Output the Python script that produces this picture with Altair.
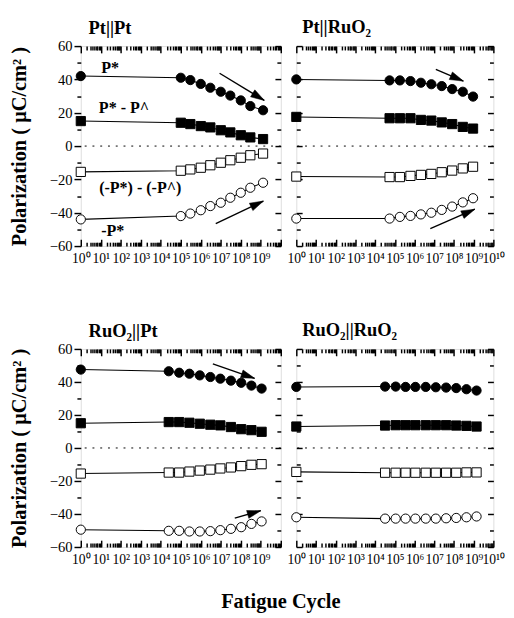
import math
import json
import altair as alt
import pandas as pd

FONT = "Liberation Serif"
SERIES = ["P*", "P* - P^", "(-P*) - (-P^)", "-P*"]
SHAPES = ["circle", "square", "square", "circle"]
FILLS = ["black", "black", "white", "white"]

XTICK_VALUES = [1, 1e1, 1e2, 1e3, 1e4, 1e5, 1e6, 1e7, 1e8, 1e9, 1e10]
XTICK_LABELS = ["10⁰", "10¹", "10²", "10³", "10⁴", "10⁵", "10⁶", "10⁷", "10⁸", "10⁹", "10¹⁰"]
MINOR_MULT = [2, 3, 4, 5, 6, 7, 8, 9]
YTICK_VALUES = [-60, -40, -20, 0, 20, 40, 60]
YMINOR_VALUES = [-50, -30, -10, 10, 30, 50]
YTITLE = "Polarization ( μC/cm² )"
XTITLE = "Fatigue Cycle"

# ---- Pt||Pt ----
tl_cycles = [1, 1e5, 3e5, 1e6, 3e6, 1e7, 3e7, 1e8, 3e8, 1.3e9]
tl_pstar = [42, 41, 39.6, 37.3, 35, 32.6, 30.3, 27.4, 24, 21.5]
tl_diff = [15, 14, 13.2, 12, 11.2, 9.5, 8.2, 6.5, 5.2, 4.2]
tl_ndiff = [-15.5, -14.8, -14, -13, -11.5, -10, -8.5, -7, -5.5, -4.5]
tl_npstar = [-44, -42, -40.5, -38.5, -36, -34, -31, -28, -25, -22]

# ---- Pt||RuO2 ----
tr_cycles = [1, 5.4e4, 1.8e5, 6.2e5, 2.1e6, 7.1e6, 2.4e7, 8.1e7, 2.8e8, 9.3e8]
tr_pstar = [40, 39.4, 39.4, 39, 38, 37.1, 36, 34.2, 32.6, 29.7]
tr_diff = [17.5, 16.7, 16.7, 16.7, 15.7, 15.3, 14.2, 13.2, 11.5, 10.5]
tr_ndiff = [-18.3, -18.6, -18.6, -17.9, -17.3, -16.7, -15.7, -14.7, -13.4, -12.4]
tr_npstar = [-43.5, -43.5, -42.5, -41.9, -41, -40, -38.3, -36.3, -33.8, -31.3]

# ---- RuO2||Pt ----
bl_cycles = [1, 2.5e4, 8.3e4, 2.7e5, 8.9e5, 3e6, 9.5e6, 3.2e7, 1.05e8, 3.4e8, 1.1e9]
bl_pstar = [47.5, 46.5, 45.6, 45, 44, 43, 42, 40.8, 39.5, 37.8, 36]
bl_diff = [15, 15.7, 15.7, 15.3, 14.7, 14.1, 13.7, 12.7, 11.4, 10.8, 9.8]
bl_ndiff = [-15.5, -14.9, -14.9, -14.3, -13.7, -13.1, -12.4, -11.8, -11, -10.2, -9.8]
bl_npstar = [-49.5, -50.2, -50.2, -50.6, -50.6, -50.4, -49.8, -49, -48, -46, -44.5]

# ---- RuO2||RuO2 ----
br_cycles = [1, 3.2e4, 1.1e5, 3.5e5, 1.1e6, 3.7e6, 1.2e7, 4e7, 1.3e8, 4.3e8, 1.4e9]
br_pstar = [37, 37.2, 37.2, 37, 37, 37, 36.8, 36.6, 36.3, 35.6, 34.8]
br_diff = [13, 13.6, 13.8, 13.8, 13.8, 13.8, 13.8, 13.8, 13.6, 13.4, 13]
br_ndiff = [-14.5, -15, -15, -15, -15, -15, -15, -15, -15, -14.8, -14.8]
br_npstar = [-42, -42.8, -42.8, -42.8, -42.8, -42.8, -42.8, -42.6, -42.4, -42, -41.5]

# arrows: (cycle_start, pol_start, cycle_end, pol_end)
tl_arrows = [(8.7e6, 43.7, 1.5e9, 27.4), (5.6e6, -46.6, 1.35e9, -33)]
tr_arrows = [(1.2e7, 46, 3e8, 39), (6.3e6, -49.5, 1.15e9, -37.9)]
bl_arrows = [(4e6, 51, 4.9e8, 42.2), (5e7, -42.5, 1e9, -38)]
br_arrows = []

# series name labels (Pt||Pt panel)
tl_labels = [("P*", 10.5, 46.8), ("P* - P^", 8, 22.5),
             ("(-P*) - (-P^)", 8.3, -25.5), ("-P*", 10.5, -50.8)]

HEAD = "M0,0L0.6,2L-0.6,2Z"

xscale = alt.Scale(type="log", domain=[1, 1e10], nice=False)
yscale = alt.Scale(domain=[-60, 60], nice=False, zero=False)

label_expr = json.dumps(XTICK_LABELS, ensure_ascii=False) + "[round(log(datum.value)/LN10)]"
minor_vals = [m * d for d in XTICK_VALUES[:-1] for m in MINOR_MULT]

dummy = pd.DataFrame({"cycle": [1.0], "value": [0.0]})


def make_df(cycles, vals_list):
    rows = []
    for s, vals in zip(SERIES, vals_list):
        for c, v in zip(cycles, vals):
            rows.append({"cycle": c, "value": v, "series": s})
    return pd.DataFrame(rows)


def arrow_df(arrows, W, H):
    rows = []
    for (x1, y1, x2, y2) in arrows:
        dx = (math.log10(x2) - math.log10(x1)) * W / 10
        dy = (y2 - y1) * H / 120
        ang = math.degrees(math.atan2(dx, dy)) % 360
        rows.append(dict(x1=x1, y1=y1, x2=x2, y2=y2, angle=ang))
    return pd.DataFrame(rows)


def ax(**kw):
    base = dict(domain=False, grid=False, labels=False, ticks=True,
                tickColor="black", tickWidth=1.5, title=None)
    base.update(kw)
    return alt.Axis(**base)


def xlayer(axis):
    return alt.Chart(dummy).mark_point(opacity=0).encode(
        x=alt.X("cycle:Q", scale=xscale, axis=axis),
        y=alt.Y("value:Q", scale=yscale, axis=None))


def ylayer(axis):
    return alt.Chart(dummy).mark_point(opacity=0).encode(
        x=alt.X("cycle:Q", scale=xscale, axis=None),
        y=alt.Y("value:Q", scale=yscale, axis=axis))


def panel(title, cycles, vals, arrows, labels, W, H, left, xlabel_vals, tdx, toff):
    df = make_df(cycles, vals)
    X = alt.X("cycle:Q", scale=xscale, axis=None)
    Y = alt.Y("value:Q", scale=yscale, axis=None)
    layers = []
    layers.append(alt.Chart(pd.DataFrame({"value": [0]})).mark_rule(
        color="black", strokeDash=[2, 6], strokeWidth=1).encode(y=Y))
    layers.append(alt.Chart(df).mark_line(color="black", strokeWidth=1.1).encode(
        x=X, y=Y, detail="series:N", order="cycle:Q"))
    layers.append(alt.Chart(df).mark_point(
        filled=True, stroke="black", strokeWidth=1, size=90, opacity=1).encode(
        x=X, y=Y,
        shape=alt.Shape("series:N", scale=alt.Scale(domain=SERIES, range=SHAPES), legend=None),
        fill=alt.Fill("series:N", scale=alt.Scale(domain=SERIES, range=FILLS), legend=None)))
    if arrows:
        adf = arrow_df(arrows, W, H)
        layers.append(alt.Chart(adf).mark_rule(color="black", strokeWidth=1.4).encode(
            x=alt.X("x1:Q", scale=xscale, axis=None), y=alt.Y("y1:Q", scale=yscale, axis=None),
            x2="x2:Q", y2="y2:Q"))
        layers.append(alt.Chart(adf).mark_point(
            shape=HEAD, filled=True, fill="black", stroke="black", strokeWidth=0.5,
            size=196, opacity=1).encode(
            x=alt.X("x2:Q", scale=xscale, axis=None), y=alt.Y("y2:Q", scale=yscale, axis=None),
            angle=alt.Angle("angle:Q", scale=None)))
    if labels:
        ldf = pd.DataFrame(labels, columns=["label", "cycle", "value"])
        layers.append(alt.Chart(ldf).mark_text(
            align="left", baseline="middle", font=FONT, fontSize=16.5,
            fontWeight="bold", color="black").encode(x=X, y=Y, text="label:N"))
    # x axes
    layers.append(xlayer(ax(orient="bottom", values=xlabel_vals, labels=True, ticks=False,
                            labelExpr=label_expr, labelFont=FONT, labelFontSize=14,
                            labelPadding=6, labelOverlap=False, labelFlush=False,
                            labelColor="black")))
    layers.append(xlayer(ax(orient="top", offset=-H, values=XTICK_VALUES, tickSize=7)))
    layers.append(xlayer(ax(orient="top", offset=-H, values=minor_vals, tickSize=4)))
    layers.append(xlayer(ax(orient="bottom", offset=-H, values=XTICK_VALUES, tickSize=7)))
    layers.append(xlayer(ax(orient="bottom", offset=-H, values=minor_vals, tickSize=4)))
    # y axes
    if left:
        layers.append(ylayer(ax(orient="left", values=YTICK_VALUES, tickSize=7, labels=True,
                                labelFont=FONT, labelFontSize=15, labelPadding=2,
                                labelColor="black", labelFlush=False, labelOverlap=False,
                                title=YTITLE, titleFont=FONT, titleFontSize=21,
                                titleFontWeight="bold", titleColor="black", titlePadding=21,
                                titleLimit=400)))
        layers.append(ylayer(ax(orient="left", values=YMINOR_VALUES, tickSize=4)))
    else:
        layers.append(ylayer(ax(orient="right", offset=-W, values=YTICK_VALUES, tickSize=6)))
        layers.append(ylayer(ax(orient="right", offset=-W, values=YMINOR_VALUES, tickSize=4)))
    layers.append(ylayer(ax(orient="left", offset=-W, values=YTICK_VALUES, tickSize=6)))
    layers.append(ylayer(ax(orient="left", offset=-W, values=YMINOR_VALUES, tickSize=4)))

    return alt.layer(*layers).properties(
        width=W, height=H,
        title=alt.TitleParams(title, anchor="start", frame="group", font=FONT, fontSize=19,
                              fontWeight="bold", color="black", offset=toff, dx=tdx)
    ).resolve_axis(x="independent", y="independent")


TL = panel("Pt||Pt", tl_cycles, [tl_pstar, tl_diff, tl_ndiff, tl_npstar], tl_arrows,
           tl_labels, 206, 206, True, XTICK_VALUES[:-1], 8, 1)
TR = panel("Pt||RuO₂", tr_cycles, [tr_pstar, tr_diff, tr_ndiff, tr_npstar], tr_arrows,
           None, 203, 206, False, XTICK_VALUES, 6, 9)
BL = panel("RuO₂||Pt", bl_cycles, [bl_pstar, bl_diff, bl_ndiff, bl_npstar], bl_arrows,
           None, 206, 204, True, XTICK_VALUES[:-1], 8, 1)
BR = panel("RuO₂||RuO₂", br_cycles, [br_pstar, br_diff, br_ndiff, br_npstar], br_arrows,
           None, 203, 204, False, XTICK_VALUES, 6, 9)

top = alt.hconcat(TL, TR, spacing=4)
bottom = alt.hconcat(BL, BR, spacing=4)

chart = alt.vconcat(top, bottom, spacing=55).properties(
    padding=0,
    title=alt.TitleParams(XTITLE, orient="bottom", anchor="middle", font=FONT, fontSize=21,
                          fontWeight="bold", color="black", offset=25, dx=25)
).configure_view(stroke="black", strokeWidth=2).configure(background="white")

chart.save("out.html", embed_options={"renderer": "svg", "actions": False})
